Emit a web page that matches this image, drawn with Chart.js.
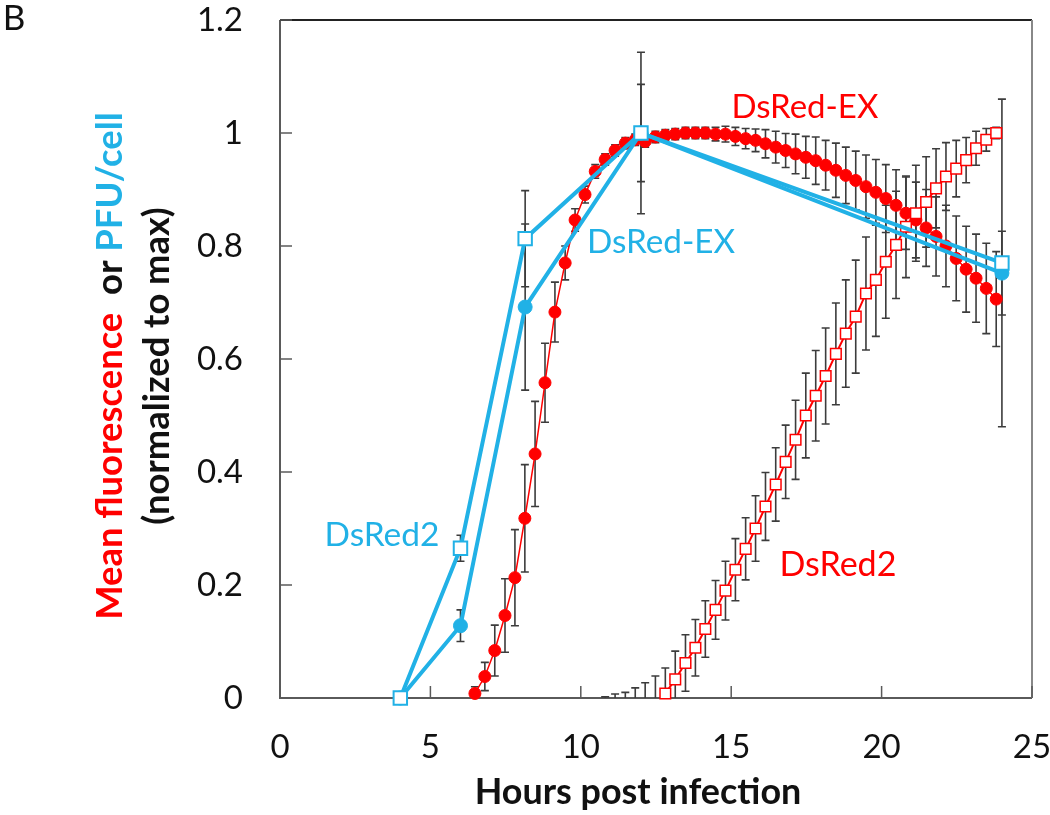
<!DOCTYPE html>
<html>
<head>
<meta charset="utf-8">
<script src="https://cdn.jsdelivr.net/npm/chart.js@4.4.1/dist/chart.umd.min.js"></script>
<style>
  html, body { margin: 0; padding: 0; background: #fff; }
  #wrap { width: 1050px; height: 815px; }
</style>
</head>
<body>
<div id="wrap"><canvas id="lineChart" width="1050" height="815"></canvas></div>
<script>
// DsRed-EX mean fluorescence (red filled circles), sampled every 20 min
const exHours = [6.48, 6.81, 7.14, 7.48, 7.81, 8.14, 8.48, 8.81, 9.14, 9.48,
  9.81, 10.14, 10.48, 10.81, 11.14, 11.48, 11.81, 12.14, 12.48, 12.81,
  13.14, 13.48, 13.81, 14.14, 14.48, 14.81, 15.14, 15.48, 15.81, 16.14,
  16.48, 16.81, 17.14, 17.48, 17.81, 18.14, 18.48, 18.81, 19.14, 19.48,
  19.81, 20.14, 20.48, 20.81, 21.14, 21.48, 21.81, 22.14, 22.48, 22.81,
  23.14, 23.48, 23.81];
const exFluo = [0.008, 0.038, 0.084, 0.146, 0.213, 0.318, 0.432, 0.558, 0.683, 0.770,
  0.846, 0.891, 0.932, 0.953, 0.969, 0.982, 0.988, 0.985, 0.993, 0.996,
  0.998, 1.0, 1.0, 1.0, 0.998, 0.998, 0.994, 0.990, 0.987, 0.981,
  0.975, 0.969, 0.963, 0.957, 0.951, 0.943, 0.934, 0.925, 0.916, 0.905,
  0.895, 0.884, 0.872, 0.858, 0.846, 0.832, 0.817, 0.800, 0.778, 0.759,
  0.743, 0.725, 0.706];
const exFluoErr = [0.012, 0.025, 0.045, 0.065, 0.085, 0.095, 0.093, 0.07, 0.053, 0.03,
  0.02, 0.015, 0.012, 0.01, 0.01, 0.01, 0.01, 0.01, 0.01, 0.01,
  0.01, 0.01, 0.01, 0.01, 0.012, 0.014, 0.016, 0.018, 0.02, 0.025,
  0.028, 0.03, 0.035, 0.037, 0.042, 0.044, 0.048, 0.05, 0.052, 0.056,
  0.058, 0.06, 0.063, 0.064, 0.067, 0.068, 0.07, 0.072, 0.075, 0.076,
  0.078, 0.08, 0.084];

// DsRed2 mean fluorescence (red open squares); first six points sit below zero
const d2Hours = [10.81, 11.14, 11.48, 11.81, 12.14, 12.48, 12.81, 13.14, 13.48, 13.81,
  14.14, 14.48, 14.81, 15.14, 15.48, 15.81, 16.14, 16.48, 16.81, 17.14,
  17.48, 17.81, 18.14, 18.48, 18.81, 19.14, 19.48, 19.81, 20.14, 20.48,
  20.81, 21.14, 21.48, 21.81, 22.14, 22.48, 22.81, 23.14, 23.48, 23.81];
const d2Fluo = [-0.03, -0.03, -0.03, -0.02, -0.02, -0.02, 0.008, 0.033, 0.062, 0.089,
  0.122, 0.156, 0.190, 0.227, 0.264, 0.300, 0.339, 0.378, 0.418, 0.457,
  0.500, 0.535, 0.570, 0.609, 0.645, 0.675, 0.716, 0.740, 0.772, 0.802,
  0.834, 0.858, 0.878, 0.902, 0.923, 0.937, 0.952, 0.973, 0.988, 1.0];
const d2FluoErr = [0.032, 0.037, 0.04, 0.038, 0.047, 0.059, 0.045, 0.05, 0.05, 0.05,
  0.05, 0.052, 0.052, 0.055, 0.055, 0.058, 0.06, 0.065, 0.065, 0.07,
  0.075, 0.08, 0.085, 0.09, 0.095, 0.1, 0.1, 0.1, 0.1, 0.095,
  0.09, 0.085, 0.08, 0.07, 0.06, 0.05, 0.04, 0.03, 0.02, 0.01];

// PFU/cell (blue)
const pfuHours = [4, 6, 8.15, 12, 24];
const pfuD2 = [0, 0.265, 0.813, 1.0, 0.77];
const pfuD2Err = [0, 0.023, 0.085, 0.143, 0.29];
const pfuEx = [0, 0.128, 0.692, 1.0, 0.752];
const pfuExErr = [0, 0.028, 0.147, 0.086, 0.074];

const xTickValues = [0, 5, 10, 15, 20, 25];
const xTickLabels = ['0', '5', '10', '15', '20', '25'];
const yTickValues = [0, 0.2, 0.4, 0.6, 0.8, 1.0, 1.2];
const yTickLabels = ['0', '0.2', '0.4', '0.6', '0.8', '1', '1.2'];

const RED = '#ff0000';
const BLUE = '#21b1e6';
const FONT = 'Lato';

const toPoints = (xs, ys) => xs.map((x, i) => ({ x: x, y: ys[i] }));

// pick a font size so the text spans the given pixel length
function fitFont(ctx, text, weight, target) {
  ctx.font = weight + ' 100px ' + FONT;
  const w = ctx.measureText(text).width;
  return weight + ' ' + (100 * target / w).toFixed(1) + 'px ' + FONT;
}

// frame with inward tick marks, drawn under the data
const frame = {
  id: 'frame',
  beforeDatasetsDraw(chart) {
    const { ctx, chartArea: a, scales } = chart;
    ctx.save();
    ctx.lineWidth = 2;
    ctx.strokeStyle = '#5a5a5a';
    ctx.beginPath();
    ctx.moveTo(a.left, a.top); ctx.lineTo(a.left, a.bottom); ctx.lineTo(a.right, a.bottom);
    ctx.stroke();
    ctx.strokeStyle = '#222';
    ctx.beginPath(); ctx.moveTo(a.left, a.top); ctx.lineTo(a.right, a.top); ctx.stroke();
    ctx.strokeStyle = '#888';
    ctx.beginPath(); ctx.moveTo(a.right, a.top); ctx.lineTo(a.right, a.bottom); ctx.stroke();
    ctx.strokeStyle = '#5a5a5a';
    ctx.lineWidth = 1.5;
    yTickValues.forEach(v => {
      const py = scales.y.getPixelForValue(v);
      ctx.beginPath(); ctx.moveTo(a.left, py); ctx.lineTo(a.left + 12, py); ctx.stroke();
    });
    xTickValues.forEach(v => {
      const px = scales.x.getPixelForValue(v);
      ctx.beginPath(); ctx.moveTo(px, a.bottom); ctx.lineTo(px, a.bottom - 12); ctx.stroke();
    });
    ctx.restore();
  }
};

const errorBars = {
  id: 'errorBars',
  beforeDatasetsDraw(chart) {
    const { ctx, chartArea: a, scales: { y } } = chart;
    ctx.save();
    ctx.beginPath();
    ctx.rect(a.left, a.top, a.right - a.left, a.bottom - a.top);
    ctx.clip();
    ctx.strokeStyle = '#3c3c3c';
    ctx.lineWidth = 1.6;
    chart.data.datasets.forEach((ds, di) => {
      if (!ds.errors) return;
      const meta = chart.getDatasetMeta(di);
      meta.data.forEach((pt, i) => {
        const e = ds.errors[i];
        if (!e) return;
        const v = ds.data[i].y;
        const top = y.getPixelForValue(v + e);
        const bot = y.getPixelForValue(v - e);
        ctx.beginPath();
        ctx.moveTo(pt.x, top); ctx.lineTo(pt.x, bot);
        ctx.moveTo(pt.x - 4, top); ctx.lineTo(pt.x + 4, top);
        ctx.moveTo(pt.x - 4, bot); ctx.lineTo(pt.x + 4, bot);
        ctx.stroke();
      });
    });
    ctx.restore();
  }
};

// curve labels placed in data units
const curveLabels = [
  { text: 'DsRed-EX', x: 17.45, y: 1.046, color: RED, len: 147 },
  { text: 'DsRed-EX', x: 12.67, y: 0.807, color: BLUE, len: 148 },
  { text: 'DsRed2', x: 3.39, y: 0.289, color: BLUE, len: 115 },
  { text: 'DsRed2', x: 18.55, y: 0.235, color: RED, len: 117 }
];

const texts = {
  id: 'texts',
  afterDraw(chart) {
    const { ctx, scales } = chart;
    ctx.save();
    ctx.textBaseline = 'middle';
    ctx.textAlign = 'center';
    curveLabels.forEach(l => {
      ctx.font = fitFont(ctx, l.text, 'normal', l.len);
      ctx.fillStyle = l.color;
      ctx.fillText(l.text, scales.x.getPixelForValue(l.x), scales.y.getPixelForValue(l.y));
    });

    ctx.fillStyle = '#111';
    ctx.font = '35px ' + FONT;
    ctx.fillText('B', 14, 19);

    ctx.font = fitFont(ctx, 'Hours post infection', 'bold', 327);
    ctx.fillText('Hours post infection', 638, 792);

    // rotated y title, first line in three colours
    const midY = 366;
    const parts = [['Mean fluorescence', RED], ['  or ', '#111'], ['PFU/cell', BLUE]];
    ctx.font = fitFont(ctx, parts.map(p => p[0]).join(''), 'bold', 507);
    ctx.save();
    ctx.translate(110, midY);
    ctx.rotate(-Math.PI / 2);
    const total = parts.reduce((s, p) => s + ctx.measureText(p[0]).width, 0);
    let cx = -total / 2;
    ctx.textAlign = 'left';
    parts.forEach(p => {
      ctx.fillStyle = p[1];
      ctx.fillText(p[0], cx, 0);
      cx += ctx.measureText(p[0]).width;
    });
    ctx.restore();

    ctx.font = fitFont(ctx, '(normalized to max)', 'bold', 318);
    ctx.save();
    ctx.translate(157, midY);
    ctx.rotate(-Math.PI / 2);
    ctx.fillStyle = '#111';
    ctx.textAlign = 'center';
    ctx.fillText('(normalized to max)', 0, 0);
    ctx.restore();
    ctx.restore();
  }
};

document.addEventListener('DOMContentLoaded', function () {
  const ctx = document.getElementById('lineChart').getContext('2d');

  const data = {
    datasets: [
      {
        label: 'PFU/cell DsRed2',
        data: toPoints(pfuHours, pfuD2),
        errors: pfuD2Err,
        order: 0,
        borderColor: BLUE,
        borderWidth: 4,
        pointStyle: 'rect',
        pointRadius: 9.5,
        pointBackgroundColor: '#fff',
        pointBorderColor: BLUE,
        pointBorderWidth: 2,
        clip: false
      },
      {
        label: 'PFU/cell DsRed-EX',
        data: toPoints(pfuHours, pfuEx),
        errors: pfuExErr,
        order: 1,
        borderColor: BLUE,
        borderWidth: 4,
        pointStyle: 'circle',
        pointRadius: 7,
        pointBackgroundColor: BLUE,
        pointBorderColor: BLUE,
        pointBorderWidth: 1,
        clip: false
      },
      {
        label: 'DsRed2 fluorescence',
        data: toPoints(d2Hours, d2Fluo),
        errors: d2FluoErr,
        order: 2,
        borderColor: RED,
        borderWidth: 2,
        pointStyle: 'rect',
        pointRadius: d2Fluo.map(v => (v < 0 ? 0 : 7.5)),
        pointBackgroundColor: '#fff',
        pointBorderColor: RED,
        pointBorderWidth: 1.5,
        segment: { borderColor: c => (c.p0.parsed.y < 0 ? 'rgba(0,0,0,0)' : RED) },
        clip: false
      },
      {
        label: 'DsRed-EX fluorescence',
        data: toPoints(exHours, exFluo),
        errors: exFluoErr,
        order: 3,
        borderColor: RED,
        borderWidth: 1.5,
        pointStyle: 'circle',
        pointRadius: 6,
        pointBackgroundColor: RED,
        pointBorderColor: RED,
        pointBorderWidth: 1,
        clip: false
      }
    ]
  };

  const tickFont = { family: FONT, size: 33 };

  new Chart(ctx, {
    type: 'line',
    data: data,
    options: {
      responsive: false,
      animation: false,
      events: [],
      layout: { padding: { top: 20, right: 18, left: 0, bottom: 0 } },
      plugins: { legend: { display: false }, tooltip: { enabled: false } },
      scales: {
        x: {
          type: 'linear',
          min: 0,
          max: 25,
          grid: { display: false, drawTicks: false },
          border: { display: false },
          afterBuildTicks: s => { s.ticks = xTickValues.map(v => ({ value: v })); },
          ticks: { callback: (v, i) => xTickLabels[i], font: tickFont, color: '#111', padding: 30, maxRotation: 0 },
          afterFit: s => { s.height = 117; s.paddingLeft = 0; s.paddingRight = 0; }
        },
        y: {
          min: 0,
          max: 1.2,
          grid: { display: false, drawTicks: false },
          border: { display: false },
          afterBuildTicks: s => { s.ticks = yTickValues.map(v => ({ value: v })); },
          ticks: { callback: (v, i) => yTickLabels[i], font: tickFont, color: '#111', padding: 37 },
          afterFit: s => { s.width = 280; s.paddingTop = 0; s.paddingBottom = 0; }
        }
      }
    },
    plugins: [frame, errorBars, texts]
  });
});
</script>
</body>
</html>
